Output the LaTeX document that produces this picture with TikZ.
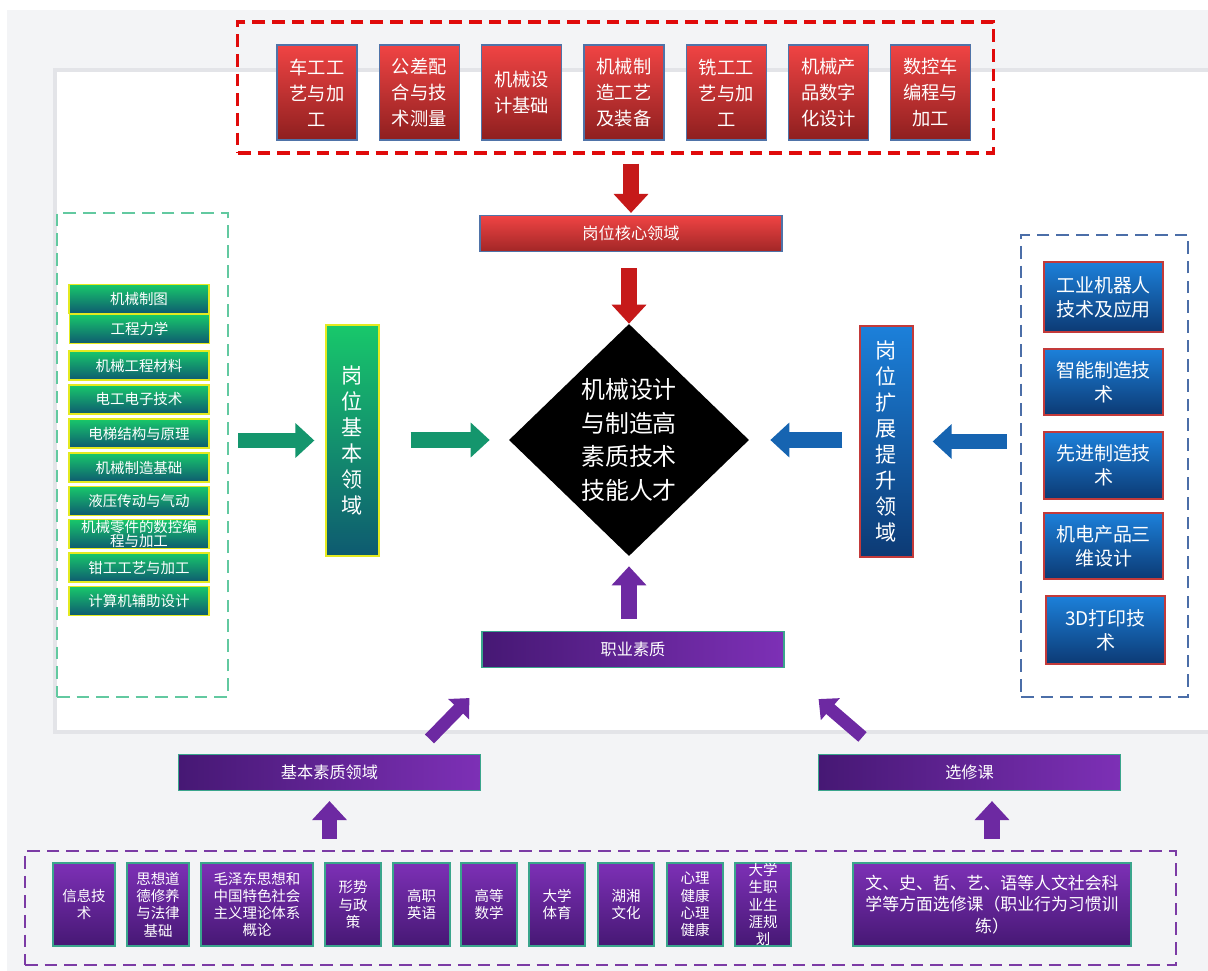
\documentclass[tikz,border=0pt]{standalone}
\usepackage{fontspec}
\setmainfont{Noto Sans CJK SC}
\usetikzlibrary{arrows.meta,positioning,shapes.geometric,calc}

\definecolor{redtop}{HTML}{F04444}
\definecolor{redbot}{HTML}{8E1F1F}
\definecolor{redline}{HTML}{4F73A8}
\definecolor{greentop}{HTML}{18C86B}
\definecolor{greenbot}{HTML}{0E5A70}
\definecolor{greenline}{HTML}{E4EA20}
\definecolor{bluetop}{HTML}{1C80DA}
\definecolor{bluebot}{HTML}{0C3A74}
\definecolor{blueline}{HTML}{C33A3A}
\definecolor{purptop}{HTML}{7D30B6}
\definecolor{purpbot}{HTML}{461874}
\definecolor{purpline}{HTML}{3AA58C}
\definecolor{dashred}{HTML}{E00A0A}
\definecolor{dashgreen}{HTML}{62C9A0}
\definecolor{dashblue}{HTML}{4B6EA8}
\definecolor{dashpurp}{HTML}{7B3BA5}
\definecolor{bggray}{HTML}{F3F4F6}
\definecolor{shadowgray}{HTML}{E3E4E8}

\begin{document}
\begin{tikzpicture}[x=0.025cm, y=-0.025cm,
        redbox/.style={rectangle, draw=redline, line width=0.9pt, top color=redtop, bottom color=redbot, text=white, minimum width=2cm, minimum height=2.375cm, inner sep=0pt, align=center, font=\fontsize{13}{18.5}\selectfont},
        greenbox/.style={rectangle, draw=greenline, line width=0.8pt, top color=greentop, bottom color=greenbot, text=white, minimum width=3.5cm, minimum height=0.725cm, inner sep=0pt, align=center, font=\fontsize{10.3}{11.5}\selectfont},
        bluebox/.style={rectangle, draw=blueline, line width=0.9pt, top color=bluetop, bottom color=bluebot, text=white, minimum width=2.975cm, inner sep=0pt, align=center, font=\fontsize{13.5}{17}\selectfont},
        purpbox/.style={rectangle, draw=purpline, line width=0.9pt, top color=purptop, bottom color=purpbot, text=white, minimum height=2.075cm, inner sep=0pt, align=center, font=\fontsize{10.3}{12.3}\selectfont},
        vbar/.style={rectangle, line width=0.9pt, text=white, minimum width=1.325cm, minimum height=5.775cm, inner sep=0pt, align=center, font=\fontsize{15}{18.5}\selectfont},
        hbar/.style={rectangle, line width=0.8pt, text=white, minimum width=7.55cm, minimum height=0.9cm, inner sep=0pt, font=\fontsize{11.5}{14}\selectfont},
        dashbox/.style={rectangle, dash pattern=on 9pt off 5pt, line width=1.8pt, inner sep=0pt},
        fatarrow/.style={line width=11.3pt, -{Triangle[width=24pt, length=13.5pt]}},
        thinarrow/.style={line width=9pt, -{Triangle[width=20pt, length=11pt]}}
    ]
        % Background
        \useasboundingbox (0,0) rectangle (1208,971);
        \fill[white] (0,0) rectangle (1208,971);
        \fill[bggray] (7,10) rectangle (1208,971);
        \fill[shadowgray] (53,68) rectangle (1208,734);
        \fill[white] (57,72) rectangle (1208,730);

        % Core courses
        \node[dashbox, draw=dashred, line width=2.2pt, minimum width=18.875cm, minimum height=3.275cm] (rdash) at (615.5,87.5) {};
        \node[redbox] (r1) at (317,92.5) {车工工\\艺与加\\工};
        \node[redbox, right=0.525cm of r1] (r2) {公差配\\合与技\\术测量};
        \node[redbox, right=0.525cm of r2] (r3) {机械设\\计基础};
        \node[redbox, right=0.525cm of r3] (r4) {机械制\\造工艺\\及装备};
        \node[redbox, right=0.525cm of r4] (r5) {铣工工\\艺与加\\工};
        \node[redbox, right=0.525cm of r5] (r6) {机械产\\品数字\\化设计};
        \node[redbox, right=0.525cm of r6] (r7) {数控车\\编程与\\加工};
        \node[hbar, draw=redline, top color=redtop, bottom color=redbot!80!redtop] (hxly) at (631,233.5) {岗位核心领域};

        % Centre
        \node[diamond, fill=black, text=white, minimum width=6cm, minimum height=5.8cm, inner sep=0pt, align=center, font=\fontsize{17}{24}\selectfont] (talent) at (629,440) {机械设计\\与制造高\\素质技术\\技能人才};

        % Basic courses
        \node[dashbox, draw=dashgreen, minimum width=4.275cm, minimum height=12.1cm] (gdash) at (142.5,455) {};
        \node[greenbox] (g1) at (139,299) {机械制图};
        \node[greenbox] (g2) at (139.5,329) {工程力学};
        \node[greenbox] (g3) at (139,365.5) {机械工程材料};
        \node[greenbox] (g4) at (139,399.5) {电工电子技术};
        \node[greenbox] (g5) at (139,433.5) {电梯结构与原理};
        \node[greenbox] (g6) at (139,467.5) {机械制造基础};
        \node[greenbox] (g7) at (139,501) {液压传动与气动};
        \node[greenbox, font=\fontsize{10.3}{10.5}\selectfont] (g8) at (139,534) {机械零件的数控编\\程与加工};
        \node[greenbox] (g9) at (139,567.5) {钳工工艺与加工};
        \node[greenbox] (g10) at (139,601) {计算机辅助设计};
        \node[vbar, draw=greenline, top color=greentop, bottom color=greenbot] (jbly) at (352.5,440.5) {岗\\位\\基\\本\\领\\域};

        % Extension courses
        \node[dashbox, draw=dashblue, minimum width=4.175cm, minimum height=11.55cm] (bdash) at (1104.5,466) {};
        \node[bluebox, minimum height=1.75cm] (b1) at (1103.5,297) {工业机器人\\技术及应用};
        \node[bluebox, minimum height=1.65cm] (b2) at (1103.5,382) {智能制造技\\术};
        \node[bluebox, minimum height=1.675cm] (b3) at (1103.5,465.5) {先进制造技\\术};
        \node[bluebox, minimum height=1.65cm] (b4) at (1103.5,546) {机电产品三\\维设计};
        \node[bluebox, minimum height=1.7cm] (b5) at (1105.5,630) {3D打印技\\术};
        \node[vbar, draw=blueline, top color=bluetop, bottom color=bluebot] (kzly) at (886.5,441.5) {岗\\位\\扩\\展\\提\\升\\领\\域};

        % Quality
        \node[hbar, draw=purpline, left color=purpbot, right color=purptop] (zysz) at (633,649.5) {职业素质};
        \node[hbar, draw=purpline, left color=purpbot, right color=purptop] (jbsz) at (329.5,772.5) {基本素质领域};
        \node[hbar, draw=purpline, left color=purpbot, right color=purptop] (xxk) at (969.5,772.5) {选修课};

        % General courses
        \node[dashbox, draw=dashpurp, minimum width=28.775cm, minimum height=2.85cm] (pdash) at (600.5,908) {};
        \node[purpbox, minimum width=1.55cm] (p1) at (84,904.5) {信息技\\术};
        \node[purpbox, minimum width=1.55cm] (p2) at (158,904.5) {思想道\\德修养\\与法律\\基础};
        \node[purpbox, minimum width=2.8cm] (p3) at (257,904.5) {毛泽东思想和\\中国特色社会\\主义理论体系\\概论};
        \node[purpbox, minimum width=1.4cm] (p4) at (353,904.5) {形势\\与政\\策};
        \node[purpbox, minimum width=1.425cm] (p5) at (421.5,904.5) {高职\\英语};
        \node[purpbox, minimum width=1.4cm] (p6) at (489,904.5) {高等\\数学};
        \node[purpbox, minimum width=1.4cm] (p7) at (557,904.5) {大学\\体育};
        \node[purpbox, minimum width=1.4cm] (p8) at (626,904.5) {湖湘\\文化};
        \node[purpbox, minimum width=1.4cm] (p9) at (695,904.5) {心理\\健康\\心理\\健康};
        \node[purpbox, minimum width=1.4cm] (p10) at (763,904.5) {大学\\生职\\业生\\涯规\\划};
        \node[purpbox, minimum width=6.95cm, font=\fontsize{12}{15.4}\selectfont] (wsz) at (992,904.5) {文、史、哲、艺、语等人文社会科\\学等方面选修课（职业行为习惯训\\练）};

        % Arrows
        \draw[fatarrow, draw=red!75!black!90, shorten <=0.225cm, shorten >=0.05cm] (hxly.north |- rdash.south) -- (hxly.north);
        \draw[fatarrow, draw=red!75!black!90, shorten <=0.4cm] (talent.north |- hxly.south) -- (talent.north);
        \draw[fatarrow, draw=greentop!55!greenbot, shorten <=0.225cm, shorten >=0.275cm] (gdash.east |- jbly.west) -- (jbly.west);
        \draw[fatarrow, draw=greentop!55!greenbot, shorten <=0.775cm, shorten >=0.475cm] (jbly.east |- talent.west) -- (talent.west);
        \draw[fatarrow, draw=bluetop!60!bluebot, shorten <=0.425cm, shorten >=0.525cm] (kzly.west |- talent.east) -- (talent.east);
        \draw[fatarrow, draw=bluetop!60!bluebot, shorten <=0.325cm, shorten >=0.475cm] (bdash.west |- kzly.east) -- (kzly.east);
        \draw[fatarrow, draw=purptop!70!purpbot, shorten <=0.3cm, shorten >=0.25cm] (talent.south |- zysz.north) -- (talent.south);
        \draw[thinarrow, draw=purptop!70!purpbot] ($(jbsz.north)+(100,-15)$) -- ($(zysz.south west)+(-12,30)$);
        \draw[thinarrow, draw=purptop!70!purpbot] ($(xxk.north)+(-107,-17)$) -- ($(zysz.south east)+(34,31)$);
        \draw[fatarrow, draw=purptop!70!purpbot, shorten <=0.275cm, shorten >=0.25cm] (jbsz.south |- pdash.north) -- (jbsz.south);
        \draw[fatarrow, draw=purptop!70!purpbot, shorten <=0.275cm, shorten >=0.25cm] (wsz.north |- pdash.north) -- (wsz.north |- xxk.south);
    \end{tikzpicture}
\end{document}
